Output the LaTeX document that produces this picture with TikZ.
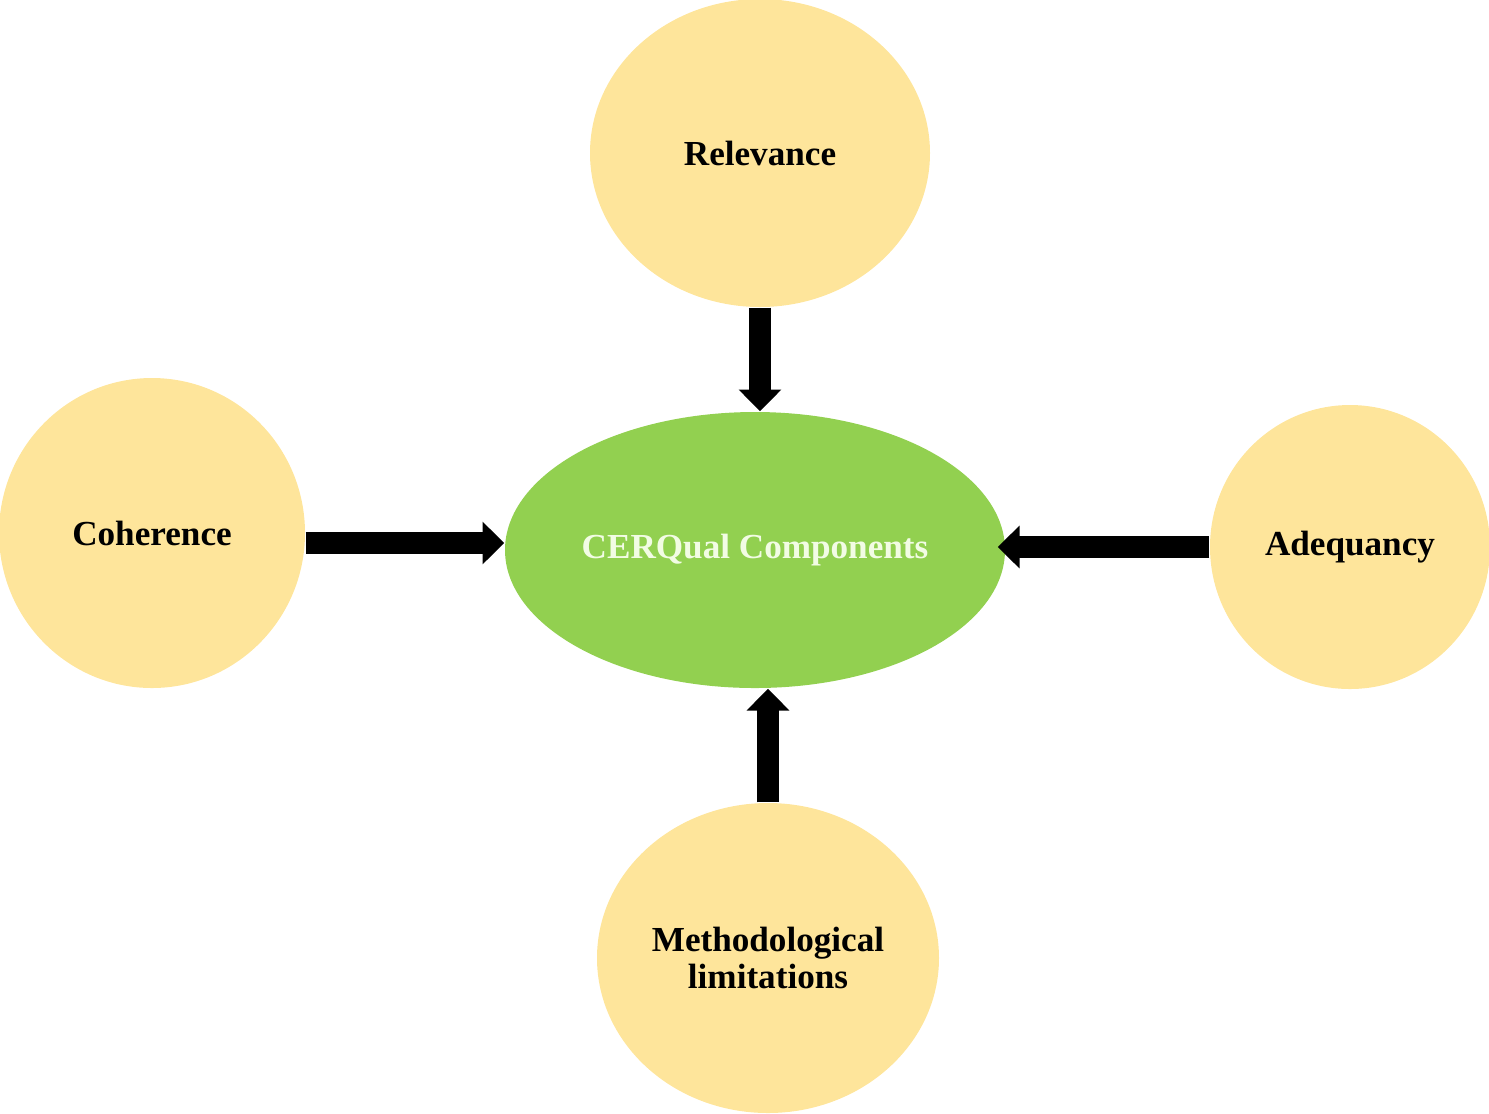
\documentclass[tikz,border=0pt]{standalone}
\usepackage{fontspec}
\setmainfont{Liberation Serif}
\usetikzlibrary{shapes.geometric}
\usetikzlibrary{arrows.meta}
\definecolor{petal}{RGB}{254,229,155}
\definecolor{hub}{RGB}{146,208,80}
\definecolor{hubtext}{RGB}{242,252,228}

\begin{document}
\begin{tikzpicture}
[petalnode/.style={ellipse,fill=petal,inner sep=0pt,align=center,
font=\fontsize{10}{10.5}\selectfont\bfseries},
hubnode/.style={ellipse,fill=hub,inner sep=0pt,minimum width=5cm,
minimum height=2.76cm,text=hubtext,font=\fontsize{10}{12}\selectfont\bfseries},
blockarrow/.style={line width=6pt,-{Triangle[length=6.2pt,width=11.8pt]}}
]
\useasboundingbox (0,0) rectangle (14.89,-11.13);
\node [hubnode] (cen) at (7.55,-5.50) {CERQual Components};
\node [petalnode,minimum width=3.40cm,minimum height=3.08cm] (rel) at (7.60,-1.53) {Relevance};
\node [petalnode,minimum width=3.06cm,minimum height=3.10cm] (coh) at (1.52,-5.33) {Coherence};
\node [petalnode,minimum width=2.80cm,minimum height=2.84cm] (ade) at (13.50,-5.47) {Adequancy};
\node [petalnode,minimum width=3.42cm,minimum height=3.10cm] (met) at (7.68,-9.58) {Methodological\\limitations};
\draw [blockarrow] (rel.south) -- (rel.south |- cen.north);
\draw [blockarrow] ([yshift=-0.1cm]coh.east) -- ([yshift=-0.1cm]coh.east -| cen.west);
\draw [blockarrow] (ade.west) -- ([xshift=-0.08cm]ade.west -| cen.east);
\draw [blockarrow] (met.north) -- (met.north |- cen.south);
\end{tikzpicture}
\end{document}
